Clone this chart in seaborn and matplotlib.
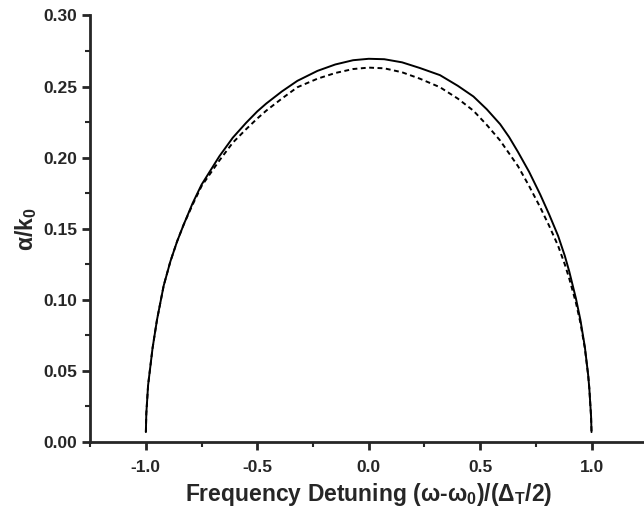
import pandas as pd
import matplotlib
matplotlib.use("Agg")
import matplotlib.pyplot as plt
from matplotlib.ticker import MultipleLocator
import seaborn as sns

# values
solid_x = [-1.0, -0.998, -0.99, -0.97, -0.95, -0.92, -0.89, -0.86, -0.83, -0.79, -0.75,
           -0.71, -0.67, -0.61, -0.55, -0.50, -0.46, -0.39, -0.32, -0.23, -0.15, -0.07,
           0.0, 0.07, 0.15, 0.23, 0.32, 0.40, 0.47, 0.53, 0.59, 0.63, 0.67, 0.72, 0.77,
           0.81, 0.85, 0.88, 0.90, 0.93, 0.95, 0.97, 0.985, 0.99, 0.998, 1.0]
solid_y = [0.007, 0.020, 0.040, 0.066, 0.086, 0.110, 0.127, 0.141, 0.153, 0.168, 0.181,
           0.191, 0.201, 0.214, 0.2245, 0.2325, 0.238, 0.2465, 0.254, 0.261, 0.2655, 0.2685,
           0.2695, 0.2692, 0.267, 0.263, 0.258, 0.2505, 0.243, 0.234, 0.2235, 0.2145, 0.204,
           0.190, 0.174, 0.160, 0.145, 0.131, 0.120, 0.101, 0.086, 0.067, 0.047, 0.038,
           0.018, 0.007]

dash_x = [-1.0, -0.998, -0.99, -0.97, -0.95, -0.92, -0.89, -0.86, -0.83, -0.79, -0.75,
          -0.71, -0.67, -0.61, -0.55, -0.50, -0.46, -0.39, -0.32, -0.23, -0.15, -0.07,
          0.0, 0.07, 0.15, 0.23, 0.32, 0.40, 0.47, 0.53, 0.59, 0.63, 0.67, 0.72, 0.77,
          0.81, 0.85, 0.88, 0.90, 0.93, 0.95, 0.97, 0.985, 0.99, 0.998, 1.0]
dash_y = [0.007, 0.020, 0.040, 0.066, 0.086, 0.110, 0.127, 0.141, 0.153, 0.167, 0.180,
          0.189, 0.198, 0.2105, 0.220, 0.2275, 0.233, 0.2415, 0.2495, 0.2555, 0.2595, 0.2623,
          0.2633, 0.2628, 0.260, 0.2555, 0.2495, 0.2415, 0.233, 0.223, 0.212, 0.203, 0.194,
          0.180, 0.165, 0.152, 0.138, 0.125, 0.115, 0.098, 0.084, 0.066, 0.047, 0.038,
          0.018, 0.007]

solid = pd.DataFrame({"x": solid_x, "y": solid_y})
dashed = pd.DataFrame({"x": dash_x, "y": dash_y})

sns.set_theme(style="ticks")
plt.rcParams["font.family"] = ["Liberation Sans", "DejaVu Sans"]
plt.rcParams["mathtext.fontset"] = "custom"
plt.rcParams["mathtext.rm"] = "Liberation Sans:bold"
plt.rcParams["mathtext.it"] = "Liberation Sans:bold"
plt.rcParams["mathtext.default"] = "regular"

fig = plt.figure(figsize=(6.44, 5.14), dpi=100)
ax = fig.add_axes([0.14, 0.14, 0.865, 0.83])

sns.lineplot(data=solid, x="x", y="y", color="black", lw=1.4, sort=False, ax=ax)
sns.lineplot(data=dashed, x="x", y="y", color="black", lw=1.4, sort=False, ax=ax,
             linestyle=(0, (2.5, 1.8)))

ax.set_xlim(-1.25, 1.25)
ax.set_ylim(0, 0.30)
ax.xaxis.set_minor_locator(MultipleLocator(0.25))
ax.yaxis.set_minor_locator(MultipleLocator(0.025))
ax.set_xticks([-1.0, -0.5, 0.0, 0.5, 1.0])
ax.set_xticklabels(["-1.0", "-0.5", "0.0", "0.5", "1.0"])
yt = [0.0, 0.05, 0.10, 0.15, 0.20, 0.25, 0.30]
ax.set_yticks(yt)
ax.set_yticklabels([f"{v:.2f}" for v in yt])

for side in ["left", "bottom"]:
    ax.spines[side].set_linewidth(2)
sns.despine(ax=ax)
ax.tick_params(which="major", direction="out", length=6, width=2, labelsize=12.5)
ax.tick_params(axis="x", which="major", pad=7)
ax.tick_params(which="minor", direction="out", length=3.5, width=1.5)
for lab in ax.get_xticklabels() + ax.get_yticklabels():
    lab.set_fontweight("bold")

ax.set_xlabel("Frequency Detuning (ω-ω$_0$)/(Δ$_T$/2)", fontsize=16.5,
              fontweight="bold", labelpad=4)
ax.set_ylabel("α/k$_0$", fontsize=16.5, fontweight="bold", labelpad=3)

fig.savefig("out.png", dpi=100)
